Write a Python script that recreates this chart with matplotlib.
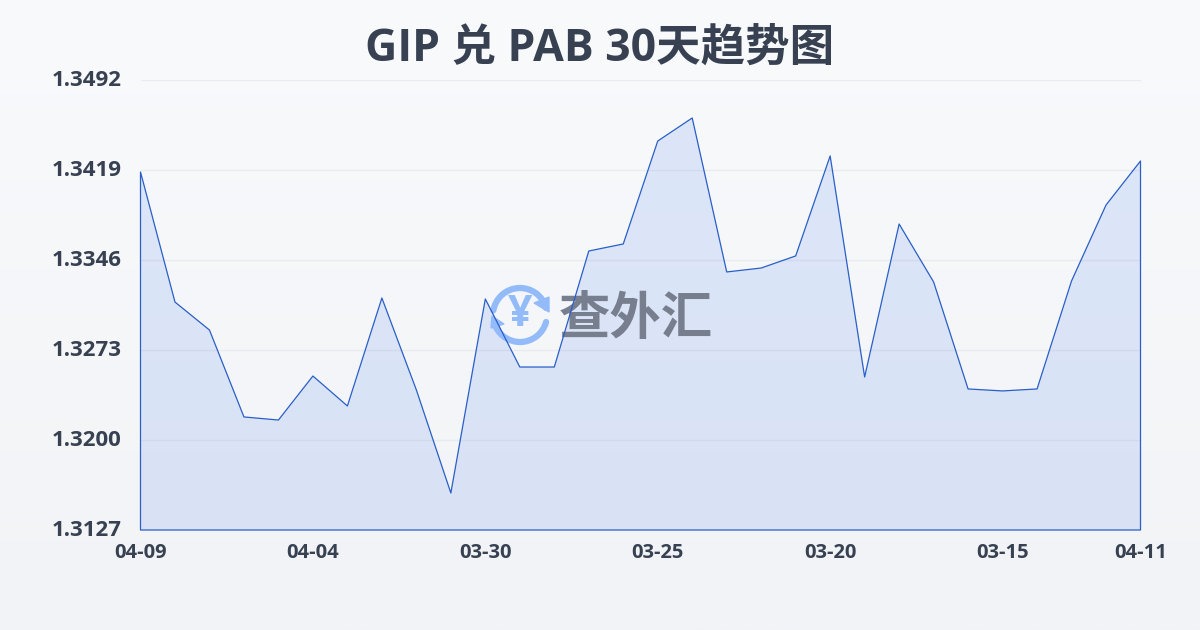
import numpy as np
import matplotlib
matplotlib.use("Agg")
import matplotlib.pyplot as plt
from matplotlib.patches import Arc, Polygon
from matplotlib.transforms import ScaledTranslation

plt.rcParams['font.family'] = ['Open Sans', 'Noto Sans CJK SC', 'DejaVu Sans']

dates = ["04-09", "04-08", "04-07", "04-06", "04-05", "04-04", "04-03", "04-02", "04-01", "03-31",
         "03-30", "03-29", "03-28", "03-27", "03-26", "03-25", "03-24", "03-23", "03-22", "03-21",
         "03-20", "03-19", "03-18", "03-17", "03-16", "03-15", "03-14", "03-13", "03-12", "04-11"]
rates = [1.34174, 1.33119, 1.32892, 1.32187, 1.32162, 1.32519, 1.32276, 1.33152, 1.32406, 1.31570,
         1.33144, 1.32592, 1.32592, 1.33533, 1.33590, 1.34425, 1.34612, 1.33363, 1.33395, 1.33493,
         1.34304, 1.32511, 1.33752, 1.33282, 1.32414, 1.32398, 1.32414, 1.33290, 1.33906, 1.34263]
y_ticks = [1.3127, 1.3200, 1.3273, 1.3346, 1.3419, 1.3492]
title = "GIP 兑 PAB 30天趋势图"

fig = plt.figure(figsize=(12, 6.3), dpi=100)

# background gradient, in pixel coordinates
bg = fig.add_axes([0, 0, 1, 1], zorder=0)
top = np.array([248, 250, 252]) / 255
bottom = np.array([241, 243, 246]) / 255
grad = np.linspace(0, 1, 256)[:, None, None]
bg.imshow(top + (bottom - top) * grad, extent=[0, 1200, 630, 0], aspect="auto")
bg.set_xlim(0, 1200)
bg.set_ylim(630, 0)
bg.axis("off")

fig.text(0.5, 0.922, title, fontsize=32, fontweight="bold", color="#374151", ha="center", va="center")

# main chart
ax = fig.add_axes([140.5 / 1200, 100 / 630, 1000 / 1200, 450 / 630], zorder=1)
ax.patch.set_alpha(0)
x = np.arange(len(rates))
ax.fill_between(x, rates, y_ticks[0], facecolor="#2563eb", alpha=0.12, linewidth=0, zorder=1)
# outline runs along the axes edge, so don't let it get clipped
ax.fill_between(x, rates, y_ticks[0], facecolor="none", edgecolor="#2a5fc7", linewidth=0.9, zorder=3,
                clip_on=False)

# watermark sits between the fill and the line
logo = "#93bbf9"
px = bg.transData
for a1, a2 in [(190, 345), (15, 165)]:
    ax.add_patch(Arc((520, 315), 54, 54, theta1=a1, theta2=a2, color=logo, lw=4.5, capstyle="round",
                     transform=px, clip_on=False, zorder=2))
ax.add_patch(Polygon([[549, 297], [549, 312], [534, 303]], color=logo, transform=px, clip_on=False, zorder=2))
ax.add_patch(Polygon([[491, 328], [504, 324], [492, 316]], color=logo, transform=px, clip_on=False, zorder=2))
ax.text(520, 315, "¥", color=logo, fontsize=31, fontweight="bold", ha="center", va="center",
        transform=px, clip_on=False, zorder=2)
ax.text(636, 321, "查外汇", color="#777f8f", fontsize=37, fontweight="bold", ha="center", va="center",
        transform=px, clip_on=False, zorder=2)

ax.set_xlim(0, len(rates) - 1)
ax.set_ylim(y_ticks[0], y_ticks[-1])
ax.grid(axis="y", color="#e8ebef", linewidth=1, zorder=0)
ax.set_axisbelow(True)
for s in ax.spines.values():
    s.set_visible(False)

ax.set_yticks(y_ticks)
ax.set_yticklabels(["%.4f" % v for v in y_ticks])
tick_idx = list(x[::5]) + [x[-1]]
ax.set_xticks(tick_idx)
ax.set_xticklabels([dates[i] for i in tick_idx])
ax.tick_params(axis="y", length=0, pad=13.5, labelsize=16, labelcolor="#374151")
ax.tick_params(axis="x", length=0, pad=9, labelsize=14.5, labelcolor="#374151")
for lab in ax.get_xticklabels() + ax.get_yticklabels():
    lab.set_fontweight("bold")
# y labels sit slightly above their grid lines
for lab in ax.get_yticklabels():
    lab.set_transform(lab.get_transform() + ScaledTranslation(0, 2 / 100, fig.dpi_scale_trans))

fig.savefig("out.png", dpi=100)
